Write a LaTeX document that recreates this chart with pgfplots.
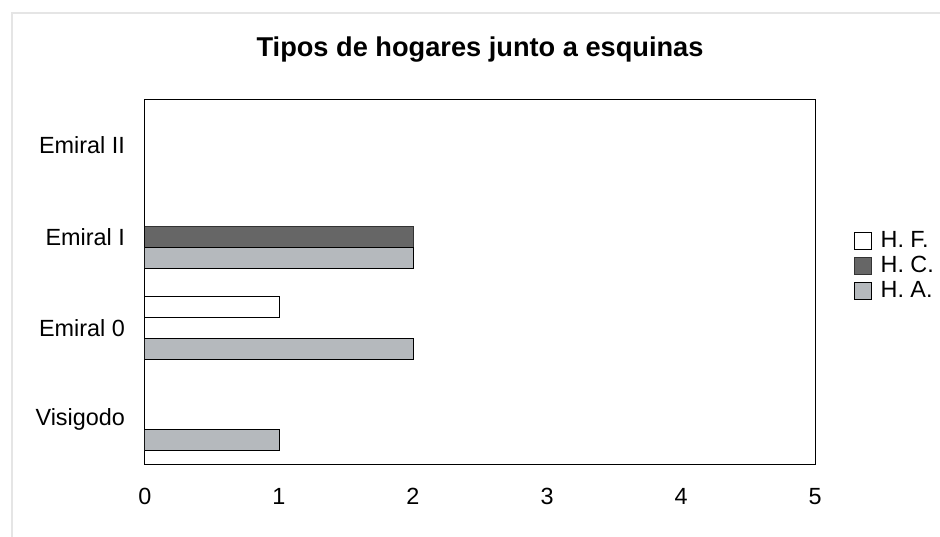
\documentclass[border=0pt]{standalone}
\usepackage{fontspec}
\setmainfont{Liberation Sans}
\usepackage{pgfplots}
\pgfplotsset{compat=1.18}

\definecolor{hc}{HTML}{666666}
\definecolor{ha}{HTML}{B5B9BD}

\begin{document}
\begin{tikzpicture}
\begin{axis}[
    name=ax,
    xbar,
    scale only axis,
    width=335pt,
    height=182.5pt,
    xmin=0, xmax=5,
    ymin=-0.5, ymax=3.5,
    xtick={0,1,2,3,4,5},
    ytick={0,1,2,3},
    yticklabels={Visigodo, Emiral 0, Emiral I, Emiral II},
    major tick length=0pt,
    axis line style={black, line width=0.5pt},
    font=\fontsize{11.7}{14}\selectfont,
    /pgf/number format/assume math mode=true,
    xticklabel style={yshift=-8pt},
    yticklabel style={xshift=-6.5pt},
    title={Tipos de hogares junto a esquinas},
    title style={at={(0.5,1)}, anchor=center, yshift=19pt,
                 font=\bfseries\fontsize{13.6}{16}\selectfont},
    bar width=10.5pt,
    legend style={draw=none, fill=none, at={(1.057,0.545)}, anchor=west,
                  font=\fontsize{11.7}{14}\selectfont, row sep=-0.3pt,
                  inner sep=0pt,
                  nodes={inner sep=1.5pt},
                  /tikz/every odd column/.append style={column sep=3pt}},
    legend image code/.code={\draw[#1, line width=0.5pt] (0pt,-4.25pt) rectangle (8.5pt,4.25pt);},
    legend cell align=left,
]
\addplot[draw=black, fill=white, line width=0.5pt, bar shift=10.5pt]
    coordinates {(1,1)};
\addplot[draw=black!80, fill=hc, line width=0.5pt, bar shift=0pt]
    coordinates {(2,2)};
\addplot[draw=black, fill=ha, line width=0.5pt, bar shift=-10.5pt]
    coordinates {(1,0) (2,1) (2,2)};
\legend{H. F., H. C., H. A.}
\end{axis}
\path[use as bounding box] ([shift={(-72.5pt,-36pt)}]ax.south west)
    rectangle ([shift={(62.5pt,50pt)}]ax.north east);
\draw[black!10, line width=0.8pt] ([shift={(-66.5pt,-36pt)}]ax.south west)
    -- ([shift={(-66.5pt,43.5pt)}]ax.north west) -- ([shift={(62.5pt,43.5pt)}]ax.north east);
\end{tikzpicture}
\end{document}
